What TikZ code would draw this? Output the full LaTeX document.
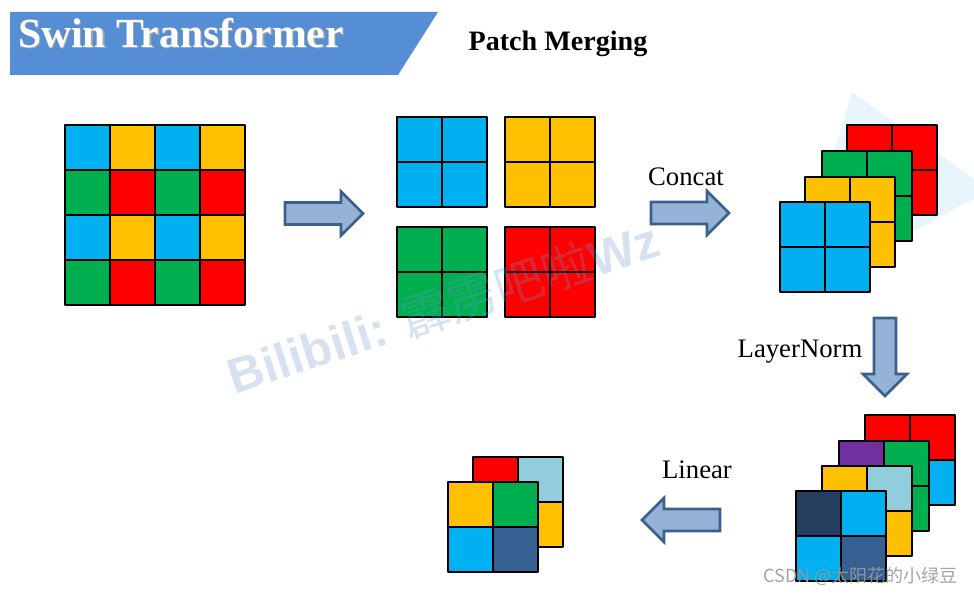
\documentclass[tikz,border=0pt]{standalone}
\usepackage{fontspec}
\setmainfont{Liberation Serif}
\newfontfamily\wmfont{Liberation Sans}
\newfontfamily\cjkfont{Noto Sans CJK SC}
\definecolor{cblue}{RGB}{0,176,240}
\definecolor{cyellow}{RGB}{255,192,0}
\definecolor{cgreen}{RGB}{0,176,80}
\definecolor{cred}{RGB}{255,0,0}
\definecolor{clight}{RGB}{146,205,220}
\definecolor{cpurple}{RGB}{112,48,160}
\definecolor{cnavy}{RGB}{36,63,96}
\definecolor{csteel}{RGB}{54,96,146}
\definecolor{banner}{RGB}{85,142,213}
\definecolor{arrfill}{RGB}{149,179,215}
\definecolor{arrline}{RGB}{60,96,140}
\definecolor{wmark}{RGB}{106,149,204}
\definecolor{wtri}{RGB}{233,245,253}
\tikzset{
  cell/.style={draw=black,line width=1.4pt,line join=round},
  arrstyle/.style={fill=arrfill,draw=arrline,line width=1.8pt,line join=miter},
  blockarrow/.pic={\filldraw[arrstyle] (0,-11) -- (56,-11) -- (56,-22) -- (78,0) -- (56,22) -- (56,11) -- (0,11) -- cycle;},
  lbl/.style={inner sep=0pt,anchor=base,font=\fontsize{19}{22}\selectfont}
}
% 2x2 patch: top-left corner, then colours TL, TR, BL, BR
\newcommand{\patch}[6]{%
  \filldraw[cell,fill=#3] (#1,#2) rectangle ++(45,45);
  \filldraw[cell,fill=#4] (#1+45,#2) rectangle ++(45,45);
  \filldraw[cell,fill=#5] (#1,#2+45) rectangle ++(45,45);
  \filldraw[cell,fill=#6] (#1+45,#2+45) rectangle ++(45,45);
}
\begin{document}
\begin{tikzpicture}[x=0.025cm,y=-0.025cm]
    \useasboundingbox (0,0) rectangle (974,603);
    % watermark triangle
    \fill[wtri] (852,92) -- (990,190) -- (790,298) -- cycle;
    % title
    \fill[banner] (10,12) -- (438,12) -- (398,75) -- (10,75) -- cycle;
    \node[inner sep=0pt,anchor=base west,text=black!35,font=\bfseries\fontsize{29.5}{34}\selectfont] (titleshadow) at (19.5,49) {Swin Transformer};
    \node[inner sep=0pt,anchor=base west,text=white,font=\bfseries\fontsize{29.5}{34}\selectfont] (title) at (18,47.5) {Swin Transformer};
    \node[inner sep=0pt,anchor=base,font=\bfseries\fontsize{20}{24}\selectfont] (merging) at (558,51) {Patch Merging};
    % input feature map
    \patch{65}{125}{cblue}{cyellow}{cgreen}{cred}
    \patch{155}{125}{cblue}{cyellow}{cgreen}{cred}
    \patch{65}{215}{cblue}{cyellow}{cgreen}{cred}
    \patch{155}{215}{cblue}{cyellow}{cgreen}{cred}
    \pic (arrsplit) at (285,213.5) {blockarrow};
    % four patches
    \patch{397}{117}{cblue}{cblue}{cblue}{cblue}
    \patch{505}{117}{cyellow}{cyellow}{cyellow}{cyellow}
    \patch{397}{227}{cgreen}{cgreen}{cgreen}{cgreen}
    \patch{505}{227}{cred}{cred}{cred}{cred}
    \pic (arrconcat) at (651,213) {blockarrow};
    \node[lbl] (concat) at (686,186) {Concat};
    % concatenated stack
    \patch{847}{125}{cred}{cred}{cred}{cred}
    \patch{822}{151}{cgreen}{cgreen}{cgreen}{cgreen}
    \patch{805}{177}{cyellow}{cyellow}{cyellow}{cyellow}
    \patch{780}{202}{cblue}{cblue}{cblue}{cblue}
    \pic[rotate=-90] (arrnorm) at (885,318) {blockarrow};
    \node[lbl] (layernorm) at (800,358) {LayerNorm};
    % normalised stack
    \patch{865}{415}{cred}{cred}{cred}{cblue}
    \patch{839}{441}{cpurple}{cgreen}{cgreen}{cgreen}
    \patch{822}{466}{cyellow}{clight}{cyellow}{cyellow}
    \patch{796}{491}{cnavy}{cblue}{cblue}{csteel}
    \pic[rotate=180] (arrlinear) at (720,520) {blockarrow};
    \node[lbl] (linear) at (697,478) {Linear};
    % output
    \patch{473}{457}{cred}{clight}{cyellow}{cyellow}
    \patch{448}{482}{cyellow}{cgreen}{cblue}{csteel}
    % watermarks
    \node[rotate=18,text=wmark,text opacity=0.27,inner sep=0pt] (bili) at (443,307)
      {\wmfont\bfseries\fontsize{35}{40}\selectfont Bilibili: {\cjkfont\mdseries 霹雳吧啦}Wz};
    \node[text=black!40,text opacity=0.9,inner sep=0pt,anchor=base east,font=\cjkfont\fontsize{12.8}{16}\selectfont] (csdn) at (958,582) {CSDN @太阳花的小绿豆};
\end{tikzpicture}
\end{document}
